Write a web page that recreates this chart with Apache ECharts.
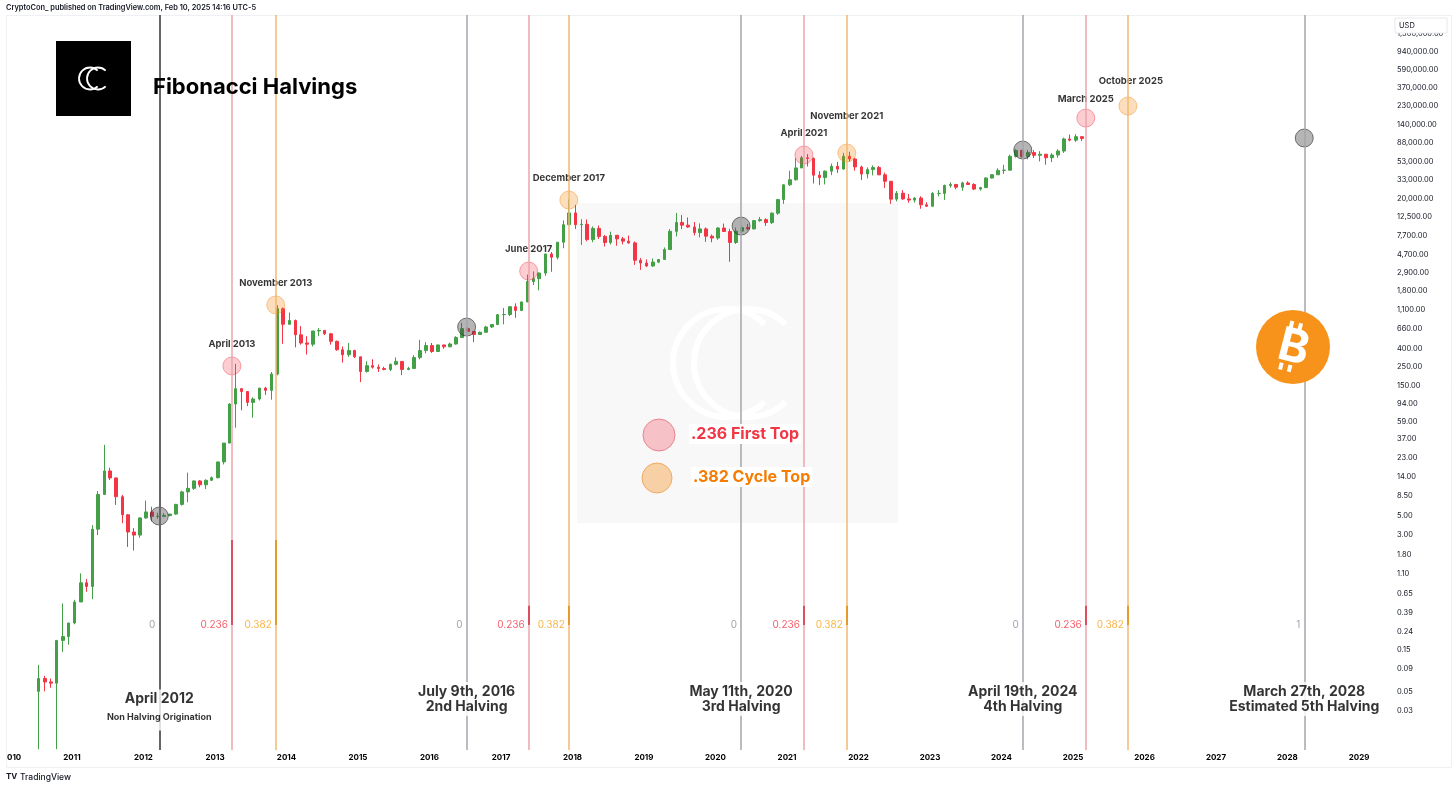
<!DOCTYPE html>
<html>
<head>
<meta charset="utf-8">
<script src="https://cdn.jsdelivr.net/npm/echarts@6/dist/echarts.min.js"></script>
</head>
<body style="margin:0;background:#fff;">
<div id="main" style="width:1456px;height:788px;"></div>
<script type="text/javascript">
// monthly BTC candles: [month, open, high, low, close]
var btcMonthly = [
  ['2010-07', 0.05, 0.10, 0.011, 0.07], ['2010-08', 0.07, 0.075, 0.05, 0.064], ['2010-09', 0.064, 0.07, 0.055, 0.062],
  ['2010-10', 0.062, 0.19, 0.011, 0.19], ['2010-11', 0.19, 0.50, 0.14, 0.21], ['2010-12', 0.21, 0.30, 0.17, 0.30],
  ['2011-01', 0.30, 0.55, 0.29, 0.52], ['2011-02', 0.52, 1.10, 0.52, 0.86], ['2011-03', 0.86, 0.95, 0.68, 0.78],
  ['2011-04', 0.78, 3.90, 0.56, 3.50], ['2011-05', 3.50, 9.50, 3.00, 8.70], ['2011-06', 8.70, 31.9, 8.70, 16.1],
  ['2011-07', 16.1, 17.5, 12.7, 13.4], ['2011-08', 13.4, 13.6, 6.60, 8.20], ['2011-09', 8.20, 8.60, 4.10, 5.10],
  ['2011-10', 5.10, 5.20, 2.20, 3.25], ['2011-11', 3.25, 3.60, 2.00, 3.00], ['2011-12', 3.00, 4.80, 2.80, 4.70],
  ['2012-01', 4.70, 7.40, 4.60, 5.50], ['2012-02', 5.50, 6.30, 4.30, 4.90], ['2012-03', 4.90, 5.40, 4.60, 4.90],
  ['2012-04', 4.90, 5.30, 4.80, 5.00], ['2012-05', 5.00, 5.20, 4.90, 5.20], ['2012-06', 5.20, 6.80, 5.10, 6.70],
  ['2012-07', 6.70, 9.60, 6.50, 9.30], ['2012-08', 9.30, 15.4, 7.10, 10.2], ['2012-09', 10.2, 12.5, 9.80, 12.4],
  ['2012-10', 12.4, 12.7, 10.5, 11.2], ['2012-11', 11.2, 12.9, 10.0, 12.6], ['2012-12', 12.6, 13.9, 12.4, 13.5],
  ['2013-01', 13.5, 20.4, 13.2, 20.4], ['2013-02', 20.4, 33.4, 19.1, 33.4], ['2013-03', 33.4, 95, 33.4, 93],
  ['2013-04', 93, 266, 50, 139], ['2013-05', 139, 140, 79, 129], ['2013-06', 129, 129, 88, 97],
  ['2013-07', 97, 111, 65, 106], ['2013-08', 106, 142, 102, 141], ['2013-09', 141, 146, 118, 133],
  ['2013-10', 133, 215, 104, 204], ['2013-11', 204, 1240, 197, 1130], ['2013-12', 1130, 1165, 450, 750],
  ['2014-01', 750, 1020, 745, 830], ['2014-02', 830, 850, 410, 570], ['2014-03', 570, 715, 440, 460],
  ['2014-04', 460, 550, 340, 445], ['2014-05', 445, 630, 420, 630], ['2014-06', 630, 680, 550, 640],
  ['2014-07', 640, 645, 565, 585], ['2014-08', 585, 600, 440, 480], ['2014-09', 480, 490, 375, 385],
  ['2014-10', 385, 420, 275, 338], ['2014-11', 338, 460, 320, 378], ['2014-12', 378, 385, 310, 320],
  ['2015-01', 320, 320, 165, 218], ['2015-02', 218, 285, 212, 254], ['2015-03', 254, 300, 235, 244],
  ['2015-04', 244, 262, 215, 236], ['2015-05', 236, 247, 225, 230], ['2015-06', 230, 268, 220, 263],
  ['2015-07', 263, 315, 255, 284], ['2015-08', 284, 285, 198, 230], ['2015-09', 230, 246, 225, 236],
  ['2015-10', 236, 335, 235, 314], ['2015-11', 314, 500, 300, 377], ['2015-12', 377, 470, 350, 430],
  ['2016-01', 430, 460, 355, 368], ['2016-02', 368, 440, 365, 437], ['2016-03', 437, 440, 395, 416],
  ['2016-04', 416, 465, 412, 448], ['2016-05', 448, 550, 440, 530], ['2016-06', 530, 780, 530, 670],
  ['2016-07', 670, 700, 610, 624], ['2016-08', 624, 628, 470, 575], ['2016-09', 575, 620, 570, 609],
  ['2016-10', 609, 720, 605, 700], ['2016-11', 700, 755, 680, 745], ['2016-12', 745, 975, 740, 965],
  ['2017-01', 965, 1150, 750, 970], ['2017-02', 970, 1210, 930, 1190], ['2017-03', 1190, 1300, 890, 1080],
  ['2017-04', 1080, 1350, 1060, 1350], ['2017-05', 1350, 2760, 1340, 2300], ['2017-06', 2300, 3000, 2100, 2480],
  ['2017-07', 2480, 2930, 1830, 2870], ['2017-08', 2870, 4750, 2670, 4740], ['2017-09', 4740, 4980, 2970, 4340],
  ['2017-10', 4340, 6470, 4100, 6450], ['2017-11', 6450, 11400, 5500, 10200], ['2017-12', 10200, 19800, 10000, 13900],
  ['2018-01', 13900, 17200, 9100, 10200], ['2018-02', 10200, 11800, 6000, 10300], ['2018-03', 10300, 11700, 6600, 6900],
  ['2018-04', 6900, 9750, 6450, 9250], ['2018-05', 9250, 9990, 7000, 7500], ['2018-06', 7500, 7770, 5750, 6400],
  ['2018-07', 6400, 8500, 6080, 7730], ['2018-08', 7730, 7760, 5880, 7040], ['2018-09', 7040, 7410, 6100, 6630],
  ['2018-10', 6630, 7680, 6200, 6330], ['2018-11', 6330, 6580, 3560, 4020], ['2018-12', 4020, 4250, 3120, 3740],
  ['2019-01', 3740, 4100, 3350, 3460], ['2019-02', 3460, 4210, 3380, 3830], ['2019-03', 3830, 4140, 3730, 4100],
  ['2019-04', 4100, 5620, 4060, 5320], ['2019-05', 5320, 9100, 5320, 8570], ['2019-06', 8570, 13880, 7500, 10820],
  ['2019-07', 10820, 13130, 9080, 10080], ['2019-08', 10080, 12330, 9370, 9600], ['2019-09', 9600, 10950, 7710, 8290],
  ['2019-10', 8290, 10540, 7300, 9140], ['2019-11', 9140, 9500, 6510, 7550], ['2019-12', 7550, 7880, 6430, 7190],
  ['2020-01', 7190, 9580, 6860, 9350], ['2020-02', 9350, 10500, 8450, 8530], ['2020-03', 8530, 9180, 3860, 6410],
  ['2020-04', 6410, 9470, 6150, 8620], ['2020-05', 8620, 10070, 8120, 9450], ['2020-06', 9450, 10400, 8830, 9140],
  ['2020-07', 9140, 11450, 8980, 11350], ['2020-08', 11350, 12490, 10990, 11650], ['2020-09', 11650, 12070, 9870, 10780],
  ['2020-10', 10780, 14100, 10370, 13800], ['2020-11', 13800, 19950, 13200, 19700], ['2020-12', 19700, 29300, 17600, 28990],
  ['2021-01', 28990, 41950, 28130, 33110], ['2021-02', 33110, 58350, 32300, 45140], ['2021-03', 45140, 61780, 44950, 58790],
  ['2021-04', 58790, 64850, 47000, 57720], ['2021-05', 57720, 59500, 30000, 37330], ['2021-06', 37330, 41330, 28800, 35040],
  ['2021-07', 35040, 42320, 29280, 41460], ['2021-08', 41460, 50500, 37330, 47100], ['2021-09', 47100, 52920, 39600, 43790],
  ['2021-10', 43790, 67000, 43280, 61300], ['2021-11', 61300, 69000, 53250, 57000], ['2021-12', 57000, 59040, 42000, 46300],
  ['2022-01', 46300, 47990, 32950, 38480], ['2022-02', 38480, 45820, 34320, 43190], ['2022-03', 43190, 48200, 37160, 45540],
  ['2022-04', 45540, 47440, 37700, 37640], ['2022-05', 37640, 40000, 26700, 31790], ['2022-06', 31790, 31960, 17600, 19930],
  ['2022-07', 19930, 24670, 18780, 23290], ['2022-08', 23290, 25200, 19540, 20050], ['2022-09', 20050, 22800, 18150, 19430],
  ['2022-10', 19430, 20990, 18200, 20490], ['2022-11', 20490, 21480, 15480, 17170], ['2022-12', 17170, 18390, 16260, 16540],
  ['2023-01', 16540, 23960, 16500, 23140], ['2023-02', 23140, 25250, 21410, 23150], ['2023-03', 23150, 29190, 19570, 28480],
  ['2023-04', 28480, 31000, 26940, 29230], ['2023-05', 29230, 29820, 25810, 27220], ['2023-06', 27220, 31430, 24800, 30480],
  ['2023-07', 30480, 31800, 28860, 29230], ['2023-08', 29230, 30230, 25170, 25940], ['2023-09', 25940, 27490, 24920, 26970],
  ['2023-10', 26970, 35280, 26560, 34650], ['2023-11', 34650, 38420, 34110, 37720], ['2023-12', 37720, 44700, 37630, 42280],
  ['2024-01', 42280, 48970, 38550, 42580], ['2024-02', 42580, 64000, 41880, 61180], ['2024-03', 61180, 73800, 59000, 71330],
  ['2024-04', 71330, 72750, 59200, 60640], ['2024-05', 60640, 71960, 56550, 67530], ['2024-06', 67530, 71950, 58400, 62760],
  ['2024-07', 62760, 70000, 53500, 64620], ['2024-08', 64620, 65100, 49100, 58970], ['2024-09', 58970, 66500, 52550, 63330],
  ['2024-10', 63330, 73600, 58900, 70220], ['2024-11', 70220, 99800, 66800, 96410], ['2024-12', 96410, 108300, 90500, 93430],
  ['2025-01', 93430, 109300, 89200, 102400], ['2025-02', 102400, 102500, 91200, 97500]
];

var halvingDates = ['2012-03-22', '2016-07-09', '2020-05-11', '2024-04-19', '2028-03-27'];
var halvingPrices = [4.94, 698, 9840, 72100, 98800];
var halvingTitles = ['April 2012', 'July 9th, 2016', 'May 11th, 2020', 'April 19th, 2024', 'March 27th, 2028'];
var halvingSubs = ['Non Halving Origination', '2nd Halving', '3rd Halving', '4th Halving', 'Estimated 5th Halving'];
var halvingFib = ['0', '0', '0', '0', '1'];

var firstTopDates = ['2013-03-28', '2017-05-22', '2021-03-28', '2025-03-07'];
var firstTopPrices = [252, 3030, 63200, 166700];
var firstTopNames = ['April 2013', 'June 2017', 'April 2021', 'March 2025'];

var cycleTopDates = ['2013-11-07', '2017-12-13', '2021-11-02', '2025-10-08'];
var cycleTopPrices = [1245, 19450, 66700, 228500];
var cycleTopNames = ['November 2013', 'December 2017', 'November 2021', 'October 2025'];

var yTicks = [0.03, 0.05, 0.09, 0.15, 0.24, 0.39, 0.65, 1.1, 1.8, 3, 5, 8.5, 14, 23, 37, 59, 94, 150, 250, 400,
  660, 1100, 1800, 2900, 4700, 7700, 12500, 20000, 33000, 53000, 88000, 140000, 230000, 370000, 590000, 940000, 1500000];

var FONT = 'Inter, "Noto Sans", sans-serif';
var INK = '#131722';
var RED = '#f23645';
var ORANGE = '#f57c00';
var YEAR = 365.25 * 24 * 3600 * 1000;

// price levels used to anchor the fib labels and the halving captions
var fibLabelPrice = 0.284;
var fibSegTop = 0.47;
var firstSegTop = 2.64;
var captionPrice = 0.041;

var myChart = echarts.init(document.getElementById('main'));

var vLines = [];
halvingDates.forEach(function (d, i) {
  vLines.push({xAxis: d, lineStyle: {color: i === 0 ? '#666' : '#a3a6ad', width: i === 0 ? 2 : 1.5, type: 'solid'}});
});
firstTopDates.forEach(function (d) {
  vLines.push({xAxis: d, lineStyle: {color: '#eba4ad', width: 1.5, type: 'solid'}});
});
cycleTopDates.forEach(function (d) {
  vLines.push({xAxis: d, lineStyle: {color: '#f3b870', width: 1.5, type: 'solid'}});
});
firstTopDates.forEach(function (d, i) {
  vLines.push([{coord: [d, fibLabelPrice], lineStyle: {color: '#db4f5e', width: 2, type: 'solid'}},
    {coord: [d, i === 0 ? firstSegTop : fibSegTop]}]);
});
cycleTopDates.forEach(function (d, i) {
  vLines.push([{coord: [d, fibLabelPrice], lineStyle: {color: '#e59a2c', width: 2, type: 'solid'}},
    {coord: [d, i === 0 ? firstSegTop : fibSegTop]}]);
});

var fibLabels = [];
halvingDates.forEach(function (d, i) {
  fibLabels.push({value: [d, fibLabelPrice], label: {formatter: halvingFib[i], color: '#8a8d94'}});
});
firstTopDates.forEach(function (d) {
  fibLabels.push({value: [d, fibLabelPrice], label: {formatter: '0.236', color: RED}});
});
cycleTopDates.forEach(function (d) {
  fibLabels.push({value: [d, fibLabelPrice], label: {formatter: '0.382', color: '#f7a21b'}});
});

function topPoints(dates, prices, names) {
  return dates.map(function (d, i) {
    var item = {value: [d, prices[i]], name: names[i]};
    if (names[i] === 'November 2021') item.label = {distance: 22};
    if (names[i] === 'March 2025') item.label = {distance: 4};
    if (names[i] === 'October 2025') item.label = {distance: 10, offset: [3, 0]};
    return item;
  });
}

function fmtPrice(v) {
  return Number(v).toLocaleString('en-US', {minimumFractionDigits: 2, maximumFractionDigits: 2});
}

// two interlocked "C" arcs, opening to the right
function cLogo(cxL, cxR, cy, r, w, z) {
  return [
    {type: 'arc', z: z, silent: true, shape: {cx: cxL, cy: cy, r: r, startAngle: 0.8, endAngle: Math.PI * 2 - 0.8},
      style: {stroke: '#fff', lineWidth: w, fill: null}},
    {type: 'arc', z: z, silent: true, shape: {cx: cxR, cy: cy, r: r, startAngle: 0.8, endAngle: Math.PI * 2 - 0.8},
      style: {stroke: '#fff', lineWidth: w, fill: null}}
  ];
}

var option = {
  animation: false,
  backgroundColor: '#fff',
  textStyle: {fontFamily: FONT},
  grid: {left: 6, right: 66, top: 15, bottom: 38},
  xAxis: {
    type: 'time',
    min: '2010-01-29',
    max: '2029-06-08',
    minInterval: YEAR * 0.99,
    maxInterval: YEAR * 1.01,
    splitNumber: 19,
    axisLine: {show: false},
    axisTick: {show: false},
    splitLine: {show: false},
    axisLabel: {
      formatter: '{yyyy}',
      showMinLabel: false,
      showMaxLabel: false,
      color: '#000', fontSize: 8, fontWeight: 'bold', margin: 4, fontFamily: FONT
    }
  },
  yAxis: {
    type: 'log',
    position: 'right',
    min: 0.01076,
    max: 2480000,
    axisLine: {show: false},
    axisTick: {show: false},
    splitLine: {show: false},
    axisLabel: {
      customValues: yTicks,
      formatter: fmtPrice,
      color: INK, fontSize: 7.5, margin: 7, fontFamily: FONT
    }
  },
  series: [
    {
      name: 'lines', type: 'scatter', data: [], z: 1, silent: true,
      markLine: {silent: true, symbol: ['none', 'none'], label: {show: false}, animation: false, data: vLines}
    },
    {
      name: 'BTC', type: 'candlestick', z: 2, barWidth: 3,
      data: btcMonthly.map(function (r) { return [r[0] + '-15', r[1], r[4], r[3], r[2]]; }),
      itemStyle: {color: '#43a047', color0: RED, borderColor: '#43a047', borderColor0: RED, borderWidth: 1}
    },
    {
      name: 'Halvings', type: 'scatter', z: 3, symbolSize: 18,
      data: halvingDates.map(function (d, i) { return [d, halvingPrices[i]]; }),
      itemStyle: {color: 'rgba(70,70,70,0.5)', borderColor: 'rgba(40,40,40,0.75)', borderWidth: 1}
    },
    {
      name: '.236 First Top', type: 'scatter', z: 3, symbolSize: 18,
      data: topPoints(firstTopDates, firstTopPrices, firstTopNames),
      itemStyle: {color: 'rgba(242,54,69,0.3)', borderColor: 'rgba(242,54,69,0.55)', borderWidth: 1},
      label: {show: true, position: 'top', distance: 7, formatter: '{b}', color: '#000', fontSize: 9.5,
        fontWeight: 'bold', fontFamily: FONT}
    },
    {
      name: '.382 Cycle Top', type: 'scatter', z: 3, symbolSize: 18,
      data: topPoints(cycleTopDates, cycleTopPrices, cycleTopNames),
      itemStyle: {color: 'rgba(245,124,0,0.33)', borderColor: 'rgba(245,124,0,0.5)', borderWidth: 1},
      label: {show: true, position: 'top', distance: 7, formatter: '{b}', color: '#000', fontSize: 9.5,
        fontWeight: 'bold', fontFamily: FONT}
    },
    {
      name: 'fib', type: 'scatter', z: 4, symbolSize: 0, silent: true,
      data: fibLabels,
      label: {show: true, position: 'left', distance: 4, fontSize: 10, fontFamily: FONT}
    },
    {
      name: 'captions', type: 'scatter', z: 5, symbolSize: 0, silent: true,
      data: halvingDates.map(function (d, i) {
        var item = {value: [d, captionPrice]};
        if (i === 0) {
          item.label = {formatter: '{a|' + halvingTitles[i] + '}\n{s|' + halvingSubs[i] + '}', offset: [0, 11]};
        } else {
          item.label = {formatter: '{a|' + halvingTitles[i] + '}\n{a|' + halvingSubs[i] + '}'};
        }
        return item;
      }),
      label: {
        show: true, position: 'inside', backgroundColor: '#fff', padding: [2, 3],
        rich: {
          a: {fontSize: 14, fontWeight: 'bold', color: '#000', lineHeight: 15, fontFamily: FONT, align: 'center'},
          s: {fontSize: 9, fontWeight: 'bold', color: '#000', lineHeight: 22, fontFamily: FONT, align: 'center'}
        }
      }
    }
  ],
  graphic: [
    // frame
    {type: 'rect', z: 0, silent: true, shape: {x: 6.5, y: 15.5, width: 1445, height: 752},
      style: {fill: null, stroke: '#eef0f3', lineWidth: 1}},
    // legend panel behind the series
    {type: 'rect', z: 0, silent: true, shape: {x: 577, y: 203, width: 321, height: 320}, style: {fill: '#f8f8f8'}}
  ].concat(cLogo(727, 748, 363, 54, 6, 0)).concat([
    {type: 'text', z: 10, style: {text: 'CryptoCon_ published on TradingView.com, Feb 10, 2025 14:16 UTC-5', x: 6, y: 8,
      fill: INK, font: '600 7.4px ' + FONT, verticalAlign: 'middle'}},
    {type: 'rect', z: 10, shape: {x: 56, y: 41, width: 75, height: 75}, style: {fill: '#000'}}
  ]).concat(cLogo(90, 98, 78.5, 11, 1.8, 11)).concat([
    {type: 'text', z: 10, style: {text: 'Fibonacci Halvings', x: 153, y: 87, fill: '#000',
      font: 'bold 22px ' + FONT, verticalAlign: 'middle'}},
    // legend entries
    {type: 'circle', z: 10, shape: {cx: 659, cy: 435, r: 16}, style: {fill: '#f6c1c7', stroke: '#e9838f', lineWidth: 1}},
    {type: 'circle', z: 10, shape: {cx: 657, cy: 478, r: 15}, style: {fill: '#f8d0a6', stroke: '#efab63', lineWidth: 1}},
    {type: 'text', z: 10, style: {text: '.236 First Top', x: 689, y: 434, fill: RED, font: 'bold 16px ' + FONT,
      verticalAlign: 'middle', backgroundColor: '#fff', padding: [2, 2]}},
    {type: 'text', z: 10, style: {text: '.382 Cycle Top', x: 691, y: 477, fill: ORANGE, font: 'bold 16px ' + FONT,
      verticalAlign: 'middle', backgroundColor: '#fff', padding: [2, 2]}},
    // bitcoin badge
    {type: 'circle', z: 10, shape: {cx: 1293, cy: 347, r: 37}, style: {fill: '#f7931a'}},
    {type: 'group', z: 11, x: 1293, y: 347, rotation: -0.25, children: [
      {type: 'text', z: 11, style: {text: 'B', x: 1, y: 1, fill: '#fff', font: 'bold 46px ' + FONT,
        align: 'center', verticalAlign: 'middle'}},
      {type: 'rect', z: 11, shape: {x: -9, y: -25, width: 4, height: 7}, style: {fill: '#fff'}},
      {type: 'rect', z: 11, shape: {x: 0, y: -25, width: 4, height: 7}, style: {fill: '#fff'}},
      {type: 'rect', z: 11, shape: {x: -9, y: 18, width: 4, height: 7}, style: {fill: '#fff'}},
      {type: 'rect', z: 11, shape: {x: 0, y: 18, width: 4, height: 7}, style: {fill: '#fff'}}
    ]},
    // price scale currency box
    {type: 'rect', z: 10, shape: {x: 1395, y: 18, width: 52, height: 15},
      style: {fill: '#fff', stroke: '#e6e8ec', lineWidth: 1}},
    {type: 'text', z: 11, style: {text: 'USD', x: 1399, y: 25.5, fill: INK, font: '7.5px ' + FONT, verticalAlign: 'middle'}},
    // cut first year label
    {type: 'text', z: 10, style: {text: '010', x: 7, y: 758, fill: '#000', font: 'bold 8px ' + FONT, verticalAlign: 'middle'}},
    // footer
    {type: 'text', z: 10, style: {text: 'TV', x: 6, y: 777, fill: INK, font: 'bold 8px ' + FONT, verticalAlign: 'middle'}},
    {type: 'text', z: 10, style: {text: 'TradingView', x: 20, y: 777, fill: INK, font: '500 8.5px ' + FONT,
      verticalAlign: 'middle'}}
  ])
};

myChart.setOption(option);
</script>
</body>
</html>
